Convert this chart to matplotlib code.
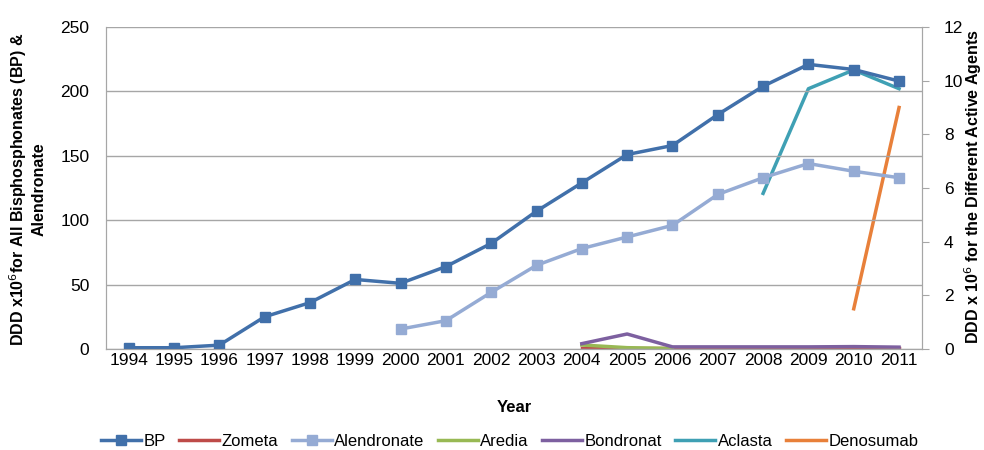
import numpy as np
import matplotlib.pyplot as plt

plt.rcParams['font.family'] = ['Liberation Sans', 'DejaVu Sans']

years = list(range(1994, 2012))
bp = [1, 1, 3, 25, 36, 54, 51, 64, 82, 107, 129, 151, 158, 182, 204, 221, 217, 208]
alen_years = list(range(2000, 2012))
alendronate = [15.5, 22, 44, 65, 78, 87, 96, 120, 133, 144, 138, 133]

agent_years = list(range(2004, 2012))
zometa = [0.02, 0.02, 0.02, 0.02, 0.02, 0.02, 0.02, 0.02]
aredia_years = [2004, 2005, 2006]
aredia = [0.15, 0.05, 0.02]
bondronat = [0.2, 0.56, 0.08, 0.08, 0.08, 0.08, 0.09, 0.07]
aclasta_years = [2008, 2009, 2010, 2011]
aclasta = [5.8, 9.7, 10.4, 9.7]
deno_years = [2010, 2011]
denosumab = [1.5, 9.0]

c_bp = '#4170AA'
c_alen = '#95ABD4'
c_zom = '#BE4B48'
c_are = '#98B954'
c_bon = '#7D60A0'
c_acl = '#3FA0B4'
c_den = '#E8803A'

fig = plt.figure(figsize=(9.84, 4.5), dpi=100)
ax = fig.add_axes([0.1077, 0.2244, 0.829, 0.7156])
ax2 = ax.twinx()

x = np.arange(len(years))
xi = {y: i for i, y in enumerate(years)}

lines = []
l, = ax.plot(x, bp, color=c_bp, lw=2.5, marker='s', ms=7, label='BP')
lines.append(l)
l, = ax2.plot([xi[y] for y in agent_years], zometa, color=c_zom, lw=2.5, label='Zometa')
lines.append(l)
l, = ax.plot([xi[y] for y in alen_years], alendronate, color=c_alen, lw=2.5, marker='s', ms=7, label='Alendronate')
lines.append(l)
l, = ax2.plot([xi[y] for y in aredia_years], aredia, color=c_are, lw=2.5, label='Aredia')
lines.append(l)
l, = ax2.plot([xi[y] for y in agent_years], bondronat, color=c_bon, lw=2.5, label='Bondronat')
lines.append(l)
l, = ax2.plot([xi[y] for y in aclasta_years], aclasta, color=c_acl, lw=2.5, label='Aclasta')
lines.append(l)
l, = ax2.plot([xi[y] for y in deno_years], denosumab, color=c_den, lw=2.5, label='Denosumab')
lines.append(l)

ax.set_zorder(ax2.get_zorder() + 1)
ax.patch.set_visible(False)

ax.set_xlim(-0.5, len(years) - 0.5)
ax.set_ylim(0, 250)
ax.set_yticks(range(0, 251, 50))
ax2.set_ylim(0, 12)
ax2.set_yticks(range(0, 13, 2))
ax.set_xticks(x)
ax.set_xticklabels([str(y) for y in years])
ax.yaxis.grid(True, color='#A6A6A6', lw=1)
ax.set_axisbelow(True)

for a in (ax, ax2):
    a.spines['top'].set_visible(False)
    for s in ('left', 'right', 'bottom'):
        a.spines[s].set_color('#A6A6A6')
    a.tick_params(colors='#A6A6A6', labelcolor='black', labelsize=12.5, length=5)
ax.tick_params(axis='x', length=0, pad=3)
ax.tick_params(axis='y', length=0, pad=12)
ax2.tick_params(axis='y', length=5, pad=11)

ax.set_xlabel('Year', fontsize=12, fontweight='bold', labelpad=23)
fig.text(0.027, 0.58, 'DDD x10$^{6}$for All Bisphosphonates (BP) &\nAlendronate',
         rotation=90, ha='center', va='center', fontsize=11.5,
         fontweight='bold', multialignment='center')
fig.text(0.989, 0.585, 'DDD x 10$^{6}$ for the Different Active Agents',
         rotation=90, ha='center', va='center', fontsize=11.5, fontweight='bold')

fig.legend(handles=lines, loc='lower center', bbox_to_anchor=(0.518, -0.03),
           ncol=7, frameon=False, fontsize=12, handlelength=2.4,
           columnspacing=0.8, handletextpad=0.15)

fig.savefig('out.png', dpi=100)
